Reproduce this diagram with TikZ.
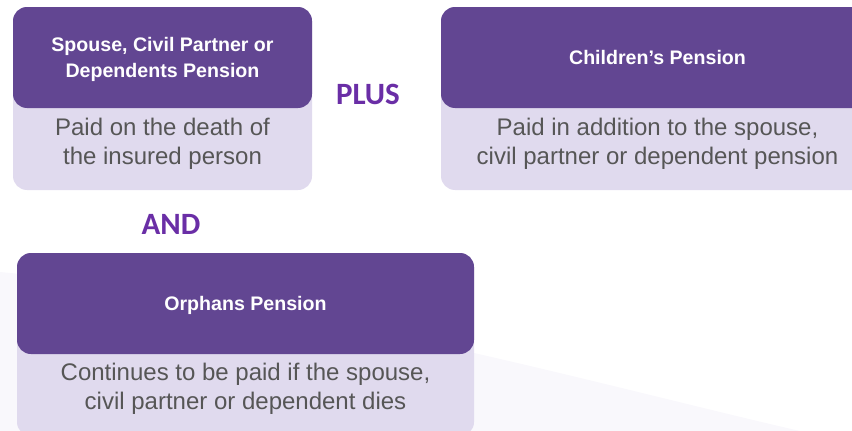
\documentclass[tikz,border=0pt]{standalone}
\usepackage{fontspec}
\setmainfont{Liberation Sans}
\newfontfamily\joinfamily{Carlito}
\usetikzlibrary{positioning}

\definecolor{headpurple}{HTML}{624692}
\definecolor{cardlilac}{HTML}{E0DAEE}
\definecolor{notegrey}{HTML}{565656}
\definecolor{joinpurple}{HTML}{6A2EA6}
\definecolor{swooshgrey}{HTML}{F9F8FC}

\newcommand{\headfont}{\fontsize{19.6}{26}\selectfont\bfseries}
\newcommand{\notefont}{\fontsize{24}{28.5}\selectfont}
\newcommand{\joinfont}{\joinfamily\fontsize{31}{31}\selectfont\bfseries}

\begin{document}
\begin{tikzpicture}[
		x=1pt,y=-1pt,
		card/.style={
			fill=cardlilac,
			rounded corners=14pt,
			minimum height=183pt,
			inner sep=0pt
		},
		head/.style={
			fill=headpurple,
			rounded corners=14pt,
			text=white,
			font=\headfont,
			align=center,
			text depth=0pt,
			minimum height=101pt,
			inner sep=0pt,
			anchor=north
		},
		note/.style={
			text=notegrey,
			font=\notefont,
			align=center,
			inner sep=0pt
		},
		joiner/.style={
			text=joinpurple,
			font=\joinfont,
			inner sep=0pt
		}
		]
		\useasboundingbox (0,0) rectangle (852,431);
		\clip (0,0) rectangle (852,431);
		
		% faint background swoosh
		\fill[swooshgrey] (0,272) .. controls (300,300) and (600,385) .. (800,431) -- (0,431) -- cycle;
		
		% spouse card
		\node[card,minimum width=299pt] (spouse) at (162.5,98.5) {};
		\node[head,minimum width=299pt] (spouseHead) at (spouse.north) {Spouse, Civil Partner or\\Dependents Pension};
		\node[note] (spouseNote) at (162.5,144) {Paid on the death of\\the insured person};
		
		% children card
		\node[card,minimum width=433pt] (children) at (657.5,98.5) {};
		\node[head,minimum width=433pt] (childrenHead) at (children.north) {Children’s Pension};
		\node[note] (childrenNote) at (657.5,144) {Paid in addition to the spouse,\\civil partner or dependent pension};
		
		% orphans card
		\node[card,minimum width=457pt] (orphans) at (245.5,344.5) {};
		\node[head,minimum width=457pt] (orphansHead) at (orphans.north) {Orphans Pension};
		\node[note] (orphansNote) at (245.5,389) {Continues to be paid if the spouse,\\civil partner or dependent dies};
		
		\node[joiner] (plus) at (368,94) {PLUS};
		\node[joiner] (and) at (171,224) {AND};
		\end{tikzpicture}
\end{document}
